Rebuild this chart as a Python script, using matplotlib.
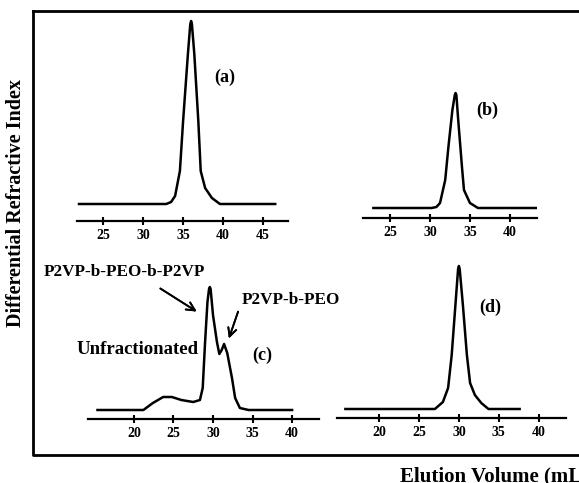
import matplotlib.pyplot as plt

plt.rcParams["font.family"] = ["Liberation Serif", "DejaVu Serif"]
plt.rcParams["font.weight"] = "bold"

W, H = 579, 483

# elution volume (mL) and RI signal (arb. units)
vol_a = [22.0, 32.9, 33.5, 34.0, 34.6, 35.0, 35.6, 35.9, 36.0, 36.1, 36.4, 36.9, 37.2, 37.75, 38.6, 39.6, 46.5]
ri_a = [0, 0, 2, 8, 33, 83, 150, 180, 183, 180, 150, 83, 33, 16, 6, 0, 0]

vol_b = [22.9, 30.2, 30.8, 31.25, 31.9, 32.3, 32.8, 33.1, 33.2, 33.3, 33.5, 34.0, 34.25, 35.0, 36.0, 43.75]
ri_b = [0, 0, 1, 5, 28, 61, 98, 113, 115, 113, 91, 41, 18, 5, 0, 0]

vol_c = [15.4, 21.2, 22.4, 23.7, 24.8, 26.0, 27.5, 28.35, 28.7, 29.0, 29.3, 29.5, 29.6, 29.7,
         30.0, 30.5, 30.8, 31.1, 31.4, 31.8, 32.4, 32.8, 33.4, 34.5, 40.0]
ri_c = [0, 0, 7, 13, 13, 10, 8, 10, 22, 68, 108, 121, 123, 121,
        95, 68, 56, 60, 66, 57, 32, 12, 2, 0, 0]

vol_d = [15.8, 27.0, 28.0, 28.65, 29.1, 29.5, 29.9, 30.0, 30.1, 30.5, 31.0, 31.4, 32.0, 32.8, 33.7, 37.6]
ri_d = [0, 0, 7, 21, 54, 97, 140, 143, 140, 104, 54, 26, 14, 6, 0, 0]

ticks_ab = [25, 30, 35, 40, 45]
ticks_b = [25, 30, 35, 40]
ticks_cd = [20, 25, 30, 35, 40]


def px(x, y):
    return x / W, 1 - y / H


def make_axes(left, right, bottom, top):
    ax = fig.add_axes([left / W, 1 - bottom / H, (right - left) / W, (bottom - top) / H])
    for s in ["left", "top", "right"]:
        ax.spines[s].set_visible(False)
    ax.spines["bottom"].set_linewidth(1.6)
    ax.set_yticks([])
    ax.tick_params(axis="x", direction="inout", length=6, width=1.5, pad=3, labelsize=10)
    ax.patch.set_alpha(0)
    return ax


fig = plt.figure(figsize=(W / 100, H / 100), dpi=100)

# outer frame
fig.add_artist(plt.Line2D([33 / W, 33 / W, 1], [1 - 11 / H, 1 - 455 / H, 1 - 455 / H],
                          color="black", lw=2.0, transform=fig.transFigure))
fig.add_artist(plt.Line2D([33 / W, 1], [1 - 11 / H, 1 - 11 / H],
                          color="black", lw=2.0, transform=fig.transFigure))

## (a) ##
ax_a = make_axes(77, 288, 221, 11)
ax_a.plot(vol_a, ri_a, color="black", lw=1.8, solid_joinstyle="round")
ax_a.set_xlim(21.75, 48.1)
ax_a.set_ylim(-17, 193)
ax_a.set_xticks(ticks_ab)

## (b) ##
ax_b = make_axes(363, 537, 218, 8)
ax_b.plot(vol_b, ri_b, color="black", lw=1.8, solid_joinstyle="round")
ax_b.set_xlim(21.6, 43.4)
ax_b.set_ylim(-10, 200)
ax_b.set_xticks(ticks_b)

## (c) ##
ax_c = make_axes(88, 319, 419, 239)
ax_c.plot(vol_c, ri_c, color="black", lw=1.8, solid_joinstyle="round")
ax_c.set_xlim(14.2, 43.4)
ax_c.set_ylim(-9, 171)
ax_c.set_xticks(ticks_cd)

## (d) ##
ax_d = make_axes(337, 566, 418, 238)
ax_d.plot(vol_d, ri_d, color="black", lw=1.8, solid_joinstyle="round")
ax_d.set_xlim(14.75, 43.4)
ax_d.set_ylim(-9, 171)
ax_d.set_xticks(ticks_cd)

# panel letters
for lab, (x, y) in zip(["(a)", "(b)", "(c)", "(d)"],
                       [(225, 77), (487, 110), (262, 355), (490, 307)]):
    fig.text(*px(x, y), lab, fontsize=13, fontweight="bold", ha="center", va="center")

fig.text(*px(44, 272), "P2VP-b-PEO-b-P2VP", fontsize=12.3, fontweight="bold", ha="left", va="center")
fig.text(*px(242, 300), "P2VP-b-PEO", fontsize=12.3, fontweight="bold", ha="left", va="center")
fig.text(*px(77, 350), "Unfractionated", fontsize=13.5, fontweight="bold", ha="left", va="center")

arrow = dict(arrowstyle="->,head_length=0.6,head_width=0.3", color="black", lw=1.3)
fig.add_artist(plt.annotate("", xy=px(199, 313), xytext=px(158, 287),
                            xycoords="figure fraction", textcoords="figure fraction",
                            arrowprops=arrow))
fig.add_artist(plt.annotate("", xy=px(228, 341), xytext=px(239, 309),
                            xycoords="figure fraction", textcoords="figure fraction",
                            arrowprops=arrow))

fig.text(*px(16, 203), "Differential Refractive Index", fontsize=14.5, fontweight="bold",
         rotation=90, ha="center", va="center")
fig.text(*px(400, 481), "Elution Volume (mL)", fontsize=15, fontweight="bold",
         ha="left", va="baseline")

plt.savefig("out.png", dpi=100)
